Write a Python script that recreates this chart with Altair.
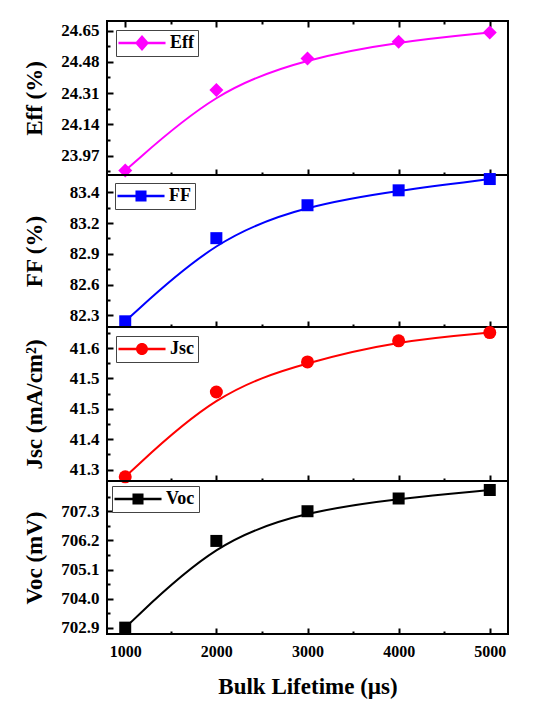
import altair as alt
import pandas as pd

# bulk lifetime (µs) and the four device parameters
lifetime = [1000, 2000, 3000, 4000, 5000]
eff = [23.888, 24.326, 24.498, 24.589, 24.639]
ff = [82.202, 83.005, 83.323, 83.467, 83.576]
jsc = [41.262, 41.499, 41.583, 41.642, 41.665]
voc = [702.91, 706.18, 707.30, 707.78, 708.10]

x_domain = [800, 5200]
x_major = [1000, 2000, 3000, 4000, 5000]
x_minor = [1500, 2500, 3500, 4500]

eff_domain = [23.864, 24.702]
eff_ticks = [23.97, 24.14, 24.31, 24.48, 24.65]
eff_minor = [23.885, 24.055, 24.225, 24.395, 24.565]

ff_domain = [82.147, 83.615]
ff_ticks = [82.26, 82.557, 82.854, 83.151, 83.448]
ff_minor = [82.4085, 82.7055, 83.0025, 83.2995]

jsc_domain = [41.2504, 41.6807]
jsc_ticks = [41.282, 41.367, 41.452, 41.537, 41.622]
jsc_minor = [41.3245, 41.4095, 41.4945, 41.5795, 41.6645]

voc_domain = [702.67, 708.44]
voc_ticks = [702.9, 704.0, 705.1, 706.2, 707.3]
voc_minor = [703.45, 704.55, 705.65, 706.75, 707.85]

FONT = "Liberation Serif"

# legend keys: line - marker - line, drawn as one filled path
LINE_KEY = "M-2.94,-0.15H2.94V0.15H-2.94Z "
DIAMOND_KEY = LINE_KEY + "M0,-1L0.875,0L0,1L-0.875,0Z"
SQUARE_KEY = LINE_KEY + "M-0.69,-0.69H0.69V0.69H-0.69Z"
CIRCLE_KEY = LINE_KEY + "M0.75,0A0.75,0.75 0 1,1 -0.75,0A0.75,0.75 0 1,1 0.75,0Z"


def panel(values, name, color, shape, size, key, y_title, y_domain, ticks, minor,
          fmt, height, legend_offset, first=False, last=False):
    df = pd.DataFrame({"lifetime": lifetime, "value": values, "series": name})
    xs = alt.Scale(domain=x_domain, nice=False, zero=False)
    ys = alt.Scale(domain=y_domain, nice=False, zero=False)

    if last:
        x_axis = alt.Axis(values=x_major, format="d", orient="bottom", offset=-6, tickSize=6,
                          labelPadding=9, labelFontSize=16, title="Bulk Lifetime (µs)",
                          titlePadding=16, titleFontSize=23)
    else:
        x_axis = alt.Axis(values=x_major, orient="bottom", offset=-6, tickSize=6,
                          labels=False, title=None)

    line = alt.Chart(df).mark_line(color=color, strokeWidth=2, interpolate="basis").encode(
        x=alt.X("lifetime:Q", scale=xs, axis=x_axis),
        y=alt.Y("value:Q", scale=ys, axis=alt.Axis(
            values=ticks, format=fmt, orient="left", offset=-6, tickSize=6,
            labelPadding=8, title=y_title, titlePadding=10, minExtent=57, maxExtent=57)),
    )

    points = alt.Chart(df).mark_point(filled=True, shape=shape, size=size, opacity=1,
                                      strokeWidth=0).encode(
        x=alt.X("lifetime:Q", scale=xs, axis=alt.Axis(
            values=x_minor, orient="bottom", offset=-3, tickSize=3, labels=False, title=None)),
        y=alt.Y("value:Q", scale=ys, axis=alt.Axis(
            values=minor, orient="left", offset=-3, tickSize=3, labels=False, title=None)),
        color=alt.Color("series:N", scale=alt.Scale(range=[color]), legend=alt.Legend(
            title=None, orient="top-left", offset=legend_offset, symbolType=key,
            symbolSize=256, symbolOffset=13, labelOffset=19, padding=4,
            strokeColor="#444444", fillColor="white", symbolStrokeWidth=0,
            symbolOpacity=1)),
    )

    layers = [line, points]
    if first:
        top_major = alt.Chart(df).mark_point(opacity=0).encode(
            x=alt.X("lifetime:Q", scale=xs, axis=alt.Axis(
                values=x_major, orient="top", offset=-6, tickSize=6, labels=False, title=None)),
            y=alt.Y("value:Q", scale=ys, axis=None),
        )
        top_minor = alt.Chart(df).mark_point(opacity=0).encode(
            x=alt.X("lifetime:Q", scale=xs, axis=alt.Axis(
                values=x_minor, orient="top", offset=-3, tickSize=3, labels=False, title=None)),
            y=alt.Y("value:Q", scale=ys, axis=None),
        )
        layers += [top_major, top_minor]

    return alt.layer(*layers).resolve_axis(x="independent", y="independent").properties(
        width=401, height=height)


eff_chart = panel(eff, "Eff", "#FF00FF", "diamond", 196, DIAMOND_KEY, "Eff (%)",
                  eff_domain, eff_ticks, eff_minor, ".2f", 154, 9, first=True)
ff_chart = panel(ff, "FF", "#0000FF", "square", 144, SQUARE_KEY, "FF (%)",
                 ff_domain, ff_ticks, ff_minor, ".1f", 152, 8)
jsc_chart = panel(jsc, "Jsc", "#FF0000", "circle", 169, CIRCLE_KEY, "Jsc (mA/cm²)",
                  jsc_domain, jsc_ticks, jsc_minor, ".1f", 154, 9)
voc_chart = panel(voc, "Voc", "#000000", "square", 144, SQUARE_KEY, "Voc (mV)",
                  voc_domain, voc_ticks, voc_minor, ".1f", 153, 5, last=True)

chart = alt.vconcat(eff_chart, ff_chart, jsc_chart, voc_chart, spacing=0, bounds="flush").resolve_scale(
    color="independent", y="independent"
).properties(
    padding={"left": 14, "top": 11, "right": 5, "bottom": 5}
).configure_view(
    stroke="black", strokeWidth=2
).configure_axis(
    grid=False,
    domain=False,
    tickColor="black",
    tickWidth=2,
    labelFont=FONT,
    labelFontWeight="bold",
    labelFontSize=17,
    labelColor="black",
    titleFont=FONT,
    titleFontWeight="bold",
    titleFontSize=23,
    titleColor="black",
).configure_legend(
    labelFont=FONT,
    labelFontWeight="bold",
    labelFontSize=18,
    labelColor="black",
)

chart.save("out.html", embed_options={"renderer": "svg", "actions": False})
